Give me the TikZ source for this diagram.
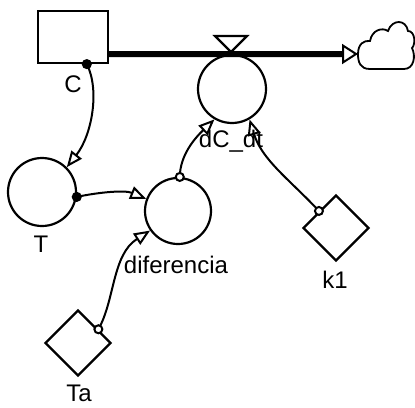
\documentclass[tikz,border=0pt]{standalone}
\usepackage{fontspec}
\setmainfont{Liberation Sans}
\usetikzlibrary{arrows.meta,shapes.geometric,calc}
\begin{document}
\begin{tikzpicture}[x=1pt,y=-1pt,
  aux/.style={circle,draw,line width=2.2pt,minimum size=68pt,inner sep=0pt},
  const/.style={diamond,draw,line width=2.2pt,minimum width=66pt,minimum height=66pt,inner sep=0pt},
  lbl/.style={font=\fontsize{24}{28}\selectfont,inner sep=0pt,anchor=base},
  conn/.style={line width=2pt,-{Triangle[open,length=16pt,width=13pt,line width=2pt]}},
  dot/.style={circle,draw,line width=2pt,fill=white,minimum size=8pt,inner sep=0pt}]
\useasboundingbox (0,0) rectangle (415,407);
% labels (drawn first, connectors over them)
\node[lbl] (lC) at (73,92) {C};
\node[lbl] (lT) at (41,252) {T};
\node[lbl] (ldif) at (176,273) {diferencia};
\node[lbl] (lk1) at (335,288) {k1};
\node[lbl] (lTa) at (79,401) {Ta};
\node[lbl] (ldC) at (231,147) {dC\_dt};
% stock
\node[draw,line width=2.2pt,minimum width=70pt,minimum height=52pt,inner sep=0pt] (C) at (73,37) {};
% shapes
\node[aux] (dCdt) at (232,89) {};
\node[aux] (T) at (42,192) {};
\node[aux,minimum size=66pt] (dif) at (178,211) {};
\node[const] (k1) at (336,228) {};
\node[const] (Ta) at (78,343) {};
% cloud
\coordinate (cloudL) at (358,54);
\draw[line width=1.8pt] (cloudL) .. controls (358,44) and (364,40) .. (370,41)
  .. controls (372,30) and (382,27) .. (388,31)
  .. controls (392,19) and (406,19) .. (408,31)
  .. controls (415,31) and (416,44) .. (412,48)
  .. controls (416,56) and (414,69) .. (404,69)
  -- (370,69) .. controls (360,69) and (358,62) .. (cloudL);
% flow pipe
\coordinate (pipeS) at ($(C.south east)+(0,-10)$);
\draw[line width=6pt,-{Triangle[open,length=16pt,width=20pt,line width=2pt]}] (pipeS) -- (cloudL);
% valve
\draw[line width=2.2pt,fill=white] (215,36) -- (247,36) -- (231,52) -- cycle;
% connectors
\draw[conn] (C.-63) .. controls (100,90) and (92,135) .. (T.45);
\draw[conn] (T.-8) .. controls (100,192) and (125,190) .. (dif.159);
\draw[conn] (Ta.34) .. controls (115,300) and (112,255) .. (dif.215);
\draw[conn] (dif.87) .. controls (180,155) and (195,138) .. (dCdt.240);
\draw[conn] (k1.135) .. controls (290,180) and (262,160) .. (dCdt.300);
% source dots
\node[dot,fill=black] (d1) at (C.-63) {};
\node[dot,fill=black] (d2) at (T.-8) {};
\node[dot] (d3) at (Ta.34) {};
\node[dot] (d4) at (dif.87) {};
\node[dot] (d5) at (k1.135) {};
\end{tikzpicture}
\end{document}
